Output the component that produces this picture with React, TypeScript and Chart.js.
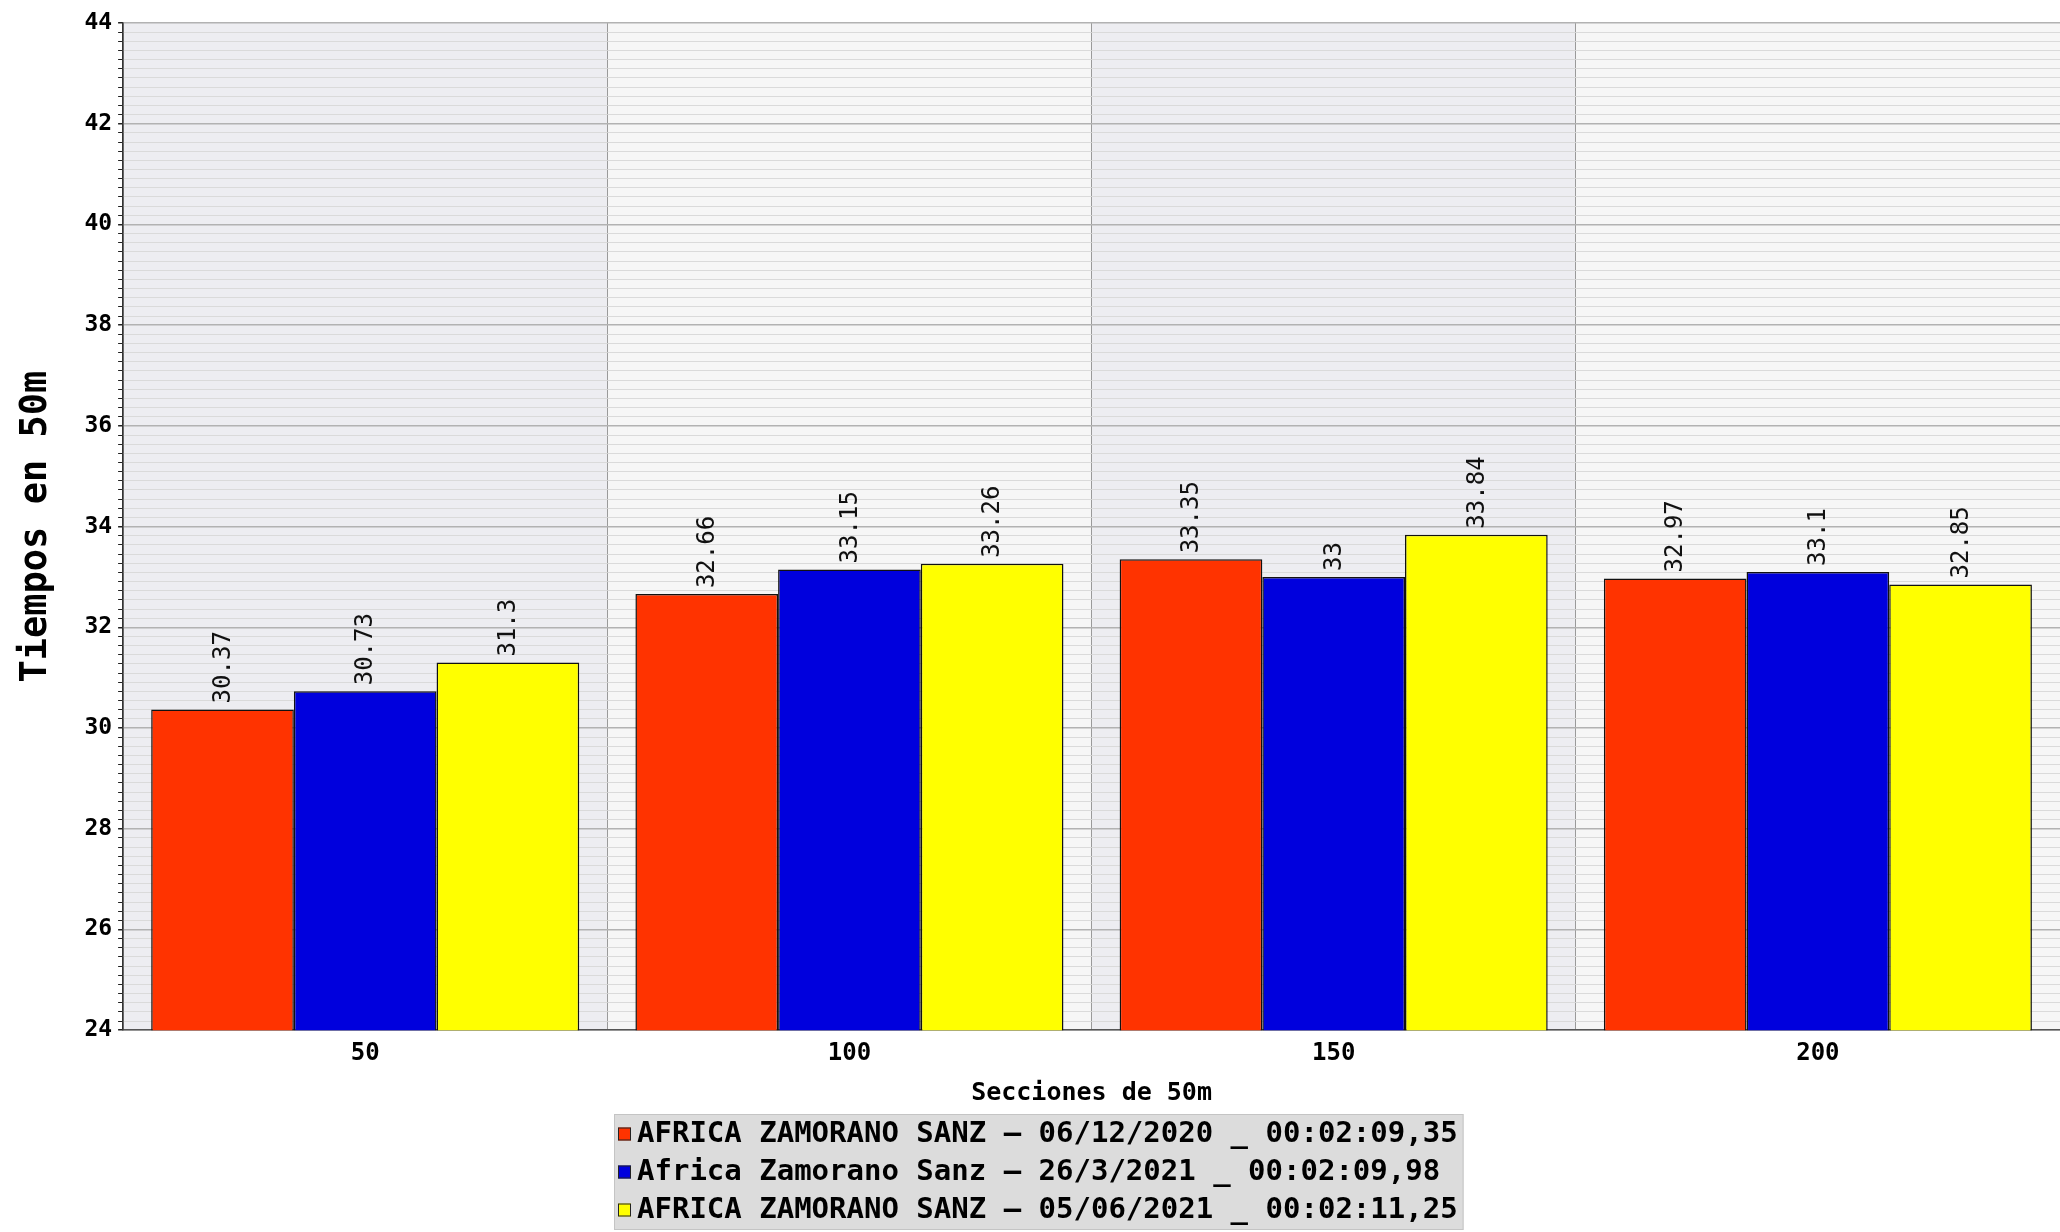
import React, { useEffect, useRef } from "react";
import { Chart, registerables } from "chart.js";

Chart.register(...registerables);

const categories = ["50", "100", "150", "200"];
const seriesLabels = [
  "AFRICA ZAMORANO SANZ – 06/12/2020 _ 00:02:09,35",
  "Africa Zamorano Sanz – 26/3/2021 _ 00:02:09,98",
  "AFRICA ZAMORANO SANZ – 05/06/2021 _ 00:02:11,25",
];
const seriesA = [30.37, 32.66, 33.35, 32.97];
const seriesB = [30.73, 33.15, 33.0, 33.1];
const seriesC = [31.3, 33.26, 33.84, 32.85];
const seriesColors = ["#ff3300", "#0000dd", "#ffff00"];
const yMajorTicks = [24, 26, 28, 30, 32, 34, 36, 38, 40, 42, 44];
const MINOR_PER_MAJOR = 10;

const MONO = "'DejaVu Sans Mono', monospace";

const bandsPlugin = {
  id: "bands",
  beforeDraw(chart: any) {
    const { ctx, chartArea, scales } = chart;
    const x = scales.x;
    const n = chart.data.labels.length;
    const w = (chartArea.right - chartArea.left) / n;
    ctx.save();
    for (let i = 0; i < n; i++) {
      const c = x.getPixelForValue(i);
      ctx.fillStyle = i % 2 === 0 ? "#ededf1" : "#f6f6f6";
      ctx.fillRect(c - w / 2, chartArea.top, w, chartArea.bottom - chartArea.top);
    }
    ctx.restore();
  },
};

const valueLabelsPlugin = {
  id: "valueLabels",
  afterDatasetsDraw(chart: any) {
    const { ctx } = chart;
    ctx.save();
    ctx.font = `24px ${MONO}`;
    ctx.fillStyle = "#111";
    ctx.textAlign = "left";
    ctx.textBaseline = "middle";
    chart.data.datasets.forEach((ds: any, di: number) => {
      const meta = chart.getDatasetMeta(di);
      meta.data.forEach((el: any, i: number) => {
        ctx.save();
        ctx.translate(el.x, el.y - 6);
        ctx.rotate(-Math.PI / 2);
        ctx.fillText(String(ds.data[i]), 0, 1);
        ctx.restore();
      });
    });
    ctx.restore();
  },
};

const legendBoxPlugin = {
  id: "legendBox",
  afterDraw(chart: any) {
    const { ctx } = chart;
    const ds = chart.data.datasets;
    const left = 614;
    const top = chart.height - 118;
    const rowH = 38;
    ctx.save();
    ctx.font = `bold 29px ${MONO}`;
    let maxW = 0;
    ds.forEach((d: any) => {
      maxW = Math.max(maxW, ctx.measureText(d.label).width);
    });
    const boxW = 4 + 13 + 6 + maxW + 6;
    const boxH = ds.length * rowH + 2;
    ctx.fillStyle = "#dcdcdc";
    ctx.fillRect(left, top, boxW, boxH);
    ctx.strokeStyle = "#c4c4c4";
    ctx.lineWidth = 1;
    ctx.strokeRect(left + 0.5, top + 0.5, boxW - 1, boxH - 1);
    ds.forEach((d: any, i: number) => {
      const cy = top + 20 + i * rowH;
      ctx.fillStyle = d.backgroundColor;
      ctx.fillRect(left + 4, cy - 6.5, 13, 13);
      ctx.strokeStyle = "#222";
      ctx.strokeRect(left + 4.5, cy - 6, 12, 12);
      ctx.fillStyle = "#000";
      ctx.textAlign = "left";
      ctx.textBaseline = "middle";
      ctx.fillText(d.label, left + 23, cy);
    });
    ctx.restore();
  },
};

export default function App() {
  const ref = useRef<HTMLCanvasElement | null>(null);

  useEffect(() => {
    if (!ref.current) return;
    const allSeries = [seriesA, seriesB, seriesC];
    const chart = new Chart(ref.current, {
      type: "bar",
      data: {
        labels: categories,
        datasets: allSeries.map((s, i) => ({
          label: seriesLabels[i],
          data: s,
          backgroundColor: seriesColors[i],
          borderColor: "#111",
          borderWidth: 1.5,
          categoryPercentage: 0.884,
          barPercentage: 1,
        })),
      },
      options: {
        responsive: false,
        animation: false,
        devicePixelRatio: 1,
        layout: { padding: { left: 14, top: 23, right: 0, bottom: 118 } },
        plugins: {
          legend: { display: false },
          tooltip: { enabled: false },
        },
        scales: {
          x: {
            grid: { color: "#9a9a9a", lineWidth: 1, offset: true, drawTicks: false },
            border: { color: "#555", width: 1.5 },
            ticks: {
              font: { family: MONO, size: 24, weight: "bold" },
              color: "#000",
              padding: 9,
            },
            title: {
              display: true,
              text: "Secciones de 50m",
              font: { family: MONO, size: 25, weight: "bold" },
              color: "#000",
              padding: { top: 1, bottom: 6 },
            },
          },
          y: {
            min: yMajorTicks[0],
            max: yMajorTicks[yMajorTicks.length - 1],
            afterBuildTicks: (scale: any) => {
              const ticks: any[] = [];
              for (let m = 0; m < yMajorTicks.length; m++) {
                ticks.push({ value: yMajorTicks[m] });
                if (m < yMajorTicks.length - 1) {
                  const step = (yMajorTicks[m + 1] - yMajorTicks[m]) / (MINOR_PER_MAJOR + 1);
                  for (let k = 1; k <= MINOR_PER_MAJOR; k++) {
                    ticks.push({ value: yMajorTicks[m] + k * step });
                  }
                }
              }
              scale.ticks = ticks;
            },
            grid: {
              color: (c: any) => (c.index % (MINOR_PER_MAJOR + 1) === 0 ? "#b2b2b2" : "#dadada"),
              lineWidth: (c: any) => (c.index % (MINOR_PER_MAJOR + 1) === 0 ? 1.5 : 1),
              tickColor: "#222",
              tickLength: 5,
            },
            border: { color: "#333", width: 1.5 },
            ticks: {
              autoSkip: false,
              font: { family: MONO, size: 23, weight: "bold" },
              color: "#000",
              padding: 6,
              callback: (v: any, i: number) =>
                i % (MINOR_PER_MAJOR + 1) === 0 ? String(Math.round(Number(v))) : "",
            },
            title: {
              display: true,
              text: "Tiempos en 50m",
              font: { family: MONO, size: 37, weight: "bold" },
              color: "#000",
              padding: { top: 0, bottom: 20 },
            },
          },
        },
      },
      plugins: [bandsPlugin, valueLabelsPlugin, legendBoxPlugin],
    } as any);
    return () => chart.destroy();
  }, []);

  return (
    <div style={{ position: "absolute", left: 0, top: 0, width: 2060, height: 1232, background: "#fff" }}>
      <canvas ref={ref} width={2060} height={1232} style={{ display: "block" }} />
    </div>
  );
}
